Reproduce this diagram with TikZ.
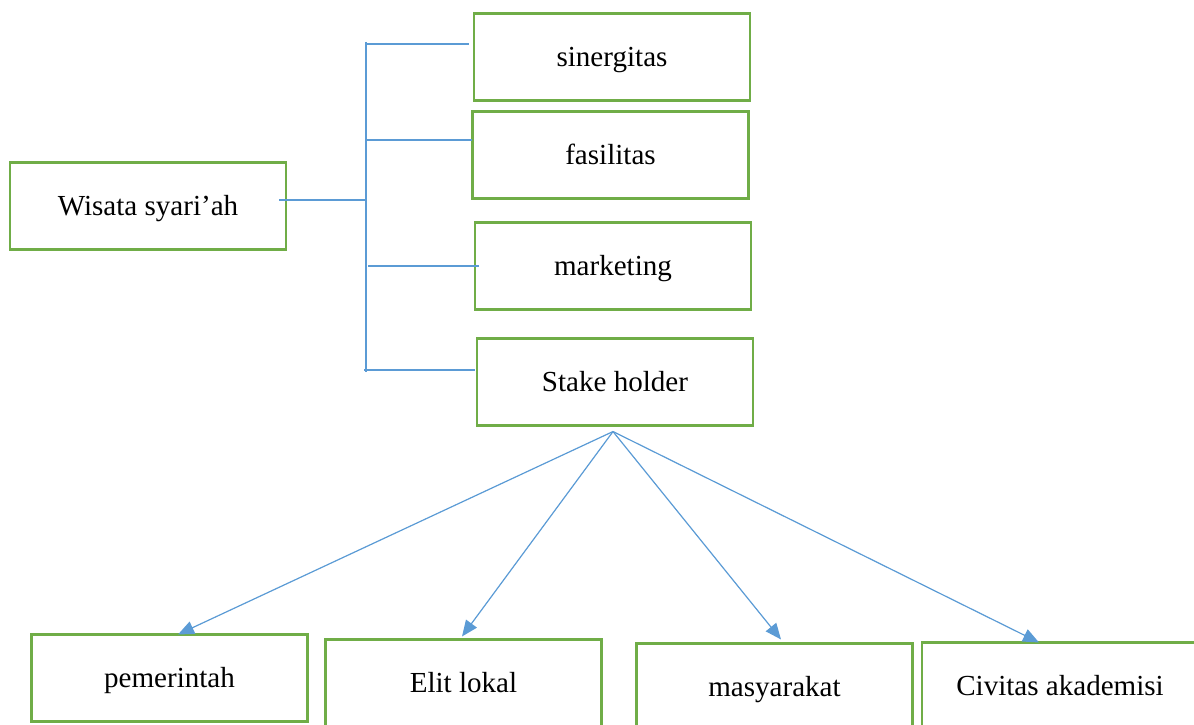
\documentclass[tikz,border=0pt]{standalone}
\usepackage{fontspec}
\setmainfont{Liberation Serif}
\usetikzlibrary{arrows.meta,calc}
\definecolor{boxgreen}{HTML}{70AD47}
\definecolor{linkblue}{HTML}{5B9BD5}
\begin{document}
\begin{tikzpicture}[x=0.75pt,y=-0.75pt,
 box/.style={draw=boxgreen,line width=1.8pt,minimum width=207pt,minimum height=65pt,inner sep=0pt,text height=19.6pt,text depth=5.2pt,font=\fontsize{21.8}{26}\selectfont},
 link/.style={draw=linkblue,line width=0.9pt},
 arr/.style={link,-{Triangle[length=12pt,width=10pt]},fill=linkblue}]
\useasboundingbox (0,0) rectangle (1194,724);
\clip (0,0) rectangle (1194,724);
\node[box] (wis) at (148,206) {Wisata syari’ah};
\node[box] (sin) at (612,57) {sinergitas};
\node[box] (fas) at (610.5,155) {fasilitas};
\node[box] (mkt) at (613,266) {marketing};
\node[box] (stk) at (615,382) {Stake holder};
\node[box] (pem) at (169.5,678) {pemerintah};
\node[box] (eli) at (463.5,683) {Elit lokal};
\node[box] (mas) at (774.5,687) {masyarakat};
\node[box] (civ) at (1060,686) {Civitas akademisi};
% bus
\coordinate (bt) at (366,42);
\coordinate (bb) at (366,372);
\coordinate (jw) at (367,200);
\coordinate (js) at (367,44);
\coordinate (jf) at (366,140);
\coordinate (jm) at (368,266);
\coordinate (jk) at (364,370);
\draw[link] (bt) -- (bb);
\draw[link] ($(wis.east)+(-8,-6)$) -- (jw);
\draw[link] (js) -- ($(sin.west)+(-4,-13)$);
\draw[link] (jf) -- ($(fas.west)+(1,-15)$);
\draw[link] (jm) -- ($(mkt.west)+(5,0)$);
\draw[link] (jk) -- ($(stk.west)+(-1,-12)$);
% arrows
\coordinate (src) at ($(stk.south)+(-2,5)$);
\draw[arr] (src) -- ($(pem.north)+(8.5,1)$);
\draw[arr] (src) -- ($(eli.north)+(-1.5,-2)$);
\draw[arr] (src) -- ($(mas.north)+(6.5,-3)$);
\draw[arr] (src) -- ($(civ.north)+(-21,1)$);
\end{tikzpicture}
\end{document}
